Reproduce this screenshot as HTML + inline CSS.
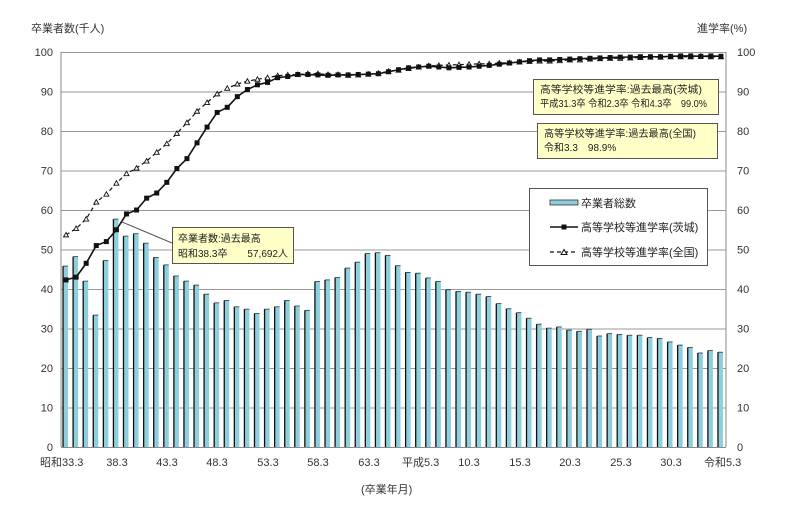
<!DOCTYPE html>
<html><head><meta charset="utf-8"><style>
body{margin:0;background:#fff}
svg{display:block;font-family:"Liberation Sans","Noto Sans CJK JP",sans-serif}
</style></head><body>
<svg id="c" width="800" height="518" viewBox="0 0 800 518" xmlns="http://www.w3.org/2000/svg">
<rect width="800" height="518" fill="#fff"/>
<g id="grid" stroke="#999" stroke-width="1"></g>
<line x1="61" y1="52" x2="61" y2="447" stroke="#888"/>
<line x1="726" y1="52" x2="726" y2="447" stroke="#888"/>
<line x1="61" y1="447.5" x2="726" y2="447.5" stroke="#888"/>
<g id="bars"></g>
<g id="lines"></g>
<g font-size="11" fill="#333">
<text x="31" y="32">卒業者数(千人)</text>
<text x="697" y="32">進学率(%)</text>
<g text-anchor="end" id="ly"></g>
<g text-anchor="start" id="ry"></g>
<text x="40" y="466">昭和33.3</text>
<text x="117" y="466" text-anchor="middle">38.3</text>
<text x="167" y="466" text-anchor="middle">43.3</text>
<text x="217" y="466" text-anchor="middle">48.3</text>
<text x="268" y="466" text-anchor="middle">53.3</text>
<text x="318" y="466" text-anchor="middle">58.3</text>
<text x="369" y="466" text-anchor="middle">63.3</text>
<text x="402" y="466">平成5.3</text>
<text x="469" y="466" text-anchor="middle">10.3</text>
<text x="520" y="466" text-anchor="middle">15.3</text>
<text x="570" y="466" text-anchor="middle">20.3</text>
<text x="621" y="466" text-anchor="middle">25.3</text>
<text x="671" y="466" text-anchor="middle">30.3</text>
<text x="704" y="466">令和5.3</text>
<text x="361" y="493">(卒業年月)</text>
</g>
<line x1="172" y1="243" x2="122" y2="222" stroke="#555"/>
<rect x="172.5" y="227.5" width="121" height="36" fill="#ffffc8" stroke="#555"/>
<text x="178" y="242" font-size="10" fill="#222">卒業者数:過去最高</text>
<text x="178" y="257" font-size="10" fill="#222" textLength="110" lengthAdjust="spacingAndGlyphs">昭和38.3卒　　57,692人</text>
<rect x="533.5" y="79.5" width="185" height="35" fill="#ffffc8" stroke="#555"/>
<text x="540" y="93" font-size="10" fill="#222" textLength="162" lengthAdjust="spacingAndGlyphs">高等学校等進学率:過去最高(茨城)</text>
<text x="540" y="107" font-size="10" fill="#222" textLength="167" lengthAdjust="spacingAndGlyphs">平成31.3卒 令和2.3卒 令和4.3卒　99.0%</text>
<rect x="537.5" y="123.5" width="180" height="35" fill="#ffffc8" stroke="#555"/>
<text x="544" y="137" font-size="10" fill="#222" textLength="152" lengthAdjust="spacingAndGlyphs">高等学校等進学率:過去最高(全国)</text>
<text x="544" y="151" font-size="10" fill="#222">令和3.3　98.9%</text>
<rect x="529.5" y="188.5" width="178" height="77" fill="#fff" stroke="#555"/>
<rect x="550" y="200" width="28" height="5" fill="#8ecfde" stroke="#333" stroke-width="0.8"/>
<text x="581" y="207" font-size="11" fill="#222">卒業者総数</text>
<line x1="550" y1="227" x2="578" y2="227" stroke="#111" stroke-width="1.6"/>
<rect x="561.5" y="224.5" width="5" height="5" fill="#111"/>
<text x="581" y="231" font-size="11" fill="#222">高等学校等進学率(茨城)</text>
<line x1="550" y1="252" x2="578" y2="252" stroke="#111" stroke-width="1.2" stroke-dasharray="4,3"/>
<path d="M561,254.5 L564,249.5 L567,254.5 Z" fill="#fff" stroke="#111"/>
<text x="581" y="256" font-size="11" fill="#222">高等学校等進学率(全国)</text>
</svg>
<script>
var NS="http://www.w3.org/2000/svg";
function el(p,t,a){var e=document.createElementNS(NS,t);for(var k in a)e.setAttribute(k,a[k]);document.getElementById(p).appendChild(e);return e;}
function Y(v){return 447-v*3.95;}
for(var v=10;v<=100;v+=10){el("grid","line",{x1:61,x2:726,y1:Y(v)+.5,y2:Y(v)+.5});}
for(var v=0;v<=100;v+=10){var t=el("ly","text",{x:53,y:Y(v)+4});t.textContent=v;var r=el("ry","text",{x:737,y:Y(v)+4});r.textContent=v;}
var bars=[45.8,48.2,42.0,33.4,47.2,57.7,53.4,54.0,51.6,48.0,46.1,43.3,42.0,41.0,38.7,36.5,37.1,35.5,34.9,33.8,34.9,35.5,37.1,35.7,34.6,41.9,42.3,42.9,45.3,46.8,49.0,49.2,48.5,45.9,44.2,44.0,42.8,41.9,39.8,39.4,39.2,38.7,38.1,36.3,35.0,34.0,32.6,31.1,30.1,30.4,29.6,29.3,29.8,28.1,28.7,28.5,28.3,28.3,27.7,27.5,26.6,25.8,25.2,23.8,24.4,24.0];
var W=665/66;
function X(i){return 61+W*(i+0.5);}
bars.forEach(function(b,i){var x=X(i)-3;el("bars","rect",{x:x,y:Y(b),width:5,height:447-Y(b),fill:"#8ecfde"});el("bars","line",{x1:x,x2:x,y1:Y(b),y2:447,stroke:"#111","stroke-width":1.3});el("bars","line",{x1:x,x2:x+5,y1:Y(b),y2:Y(b),stroke:"#333","stroke-width":0.8});});
var ib=[42.3,43.0,46.5,51,52,55,59,60,63,64.3,67,70.5,73,77,81,84.7,86,88.7,90.5,91.7,92.3,93.5,93.8,94.3,94.3,94.2,94.1,94.2,94.2,94.3,94.4,94.5,95,95.5,96,96.2,96.4,96.2,96,96.1,96.2,96.4,96.6,96.9,97.2,97.5,97.8,98,98,98.1,98.2,98.3,98.4,98.5,98.6,98.7,98.7,98.8,98.8,98.8,98.9,99.0,99.0,98.9,99.0,98.9];
var na=[53.7,55.3,57.7,62,64,66.8,69.2,70.6,72.4,74.6,76.8,79.4,82.1,85,87.2,89.4,90.8,91.9,92.6,93.1,93.5,94.0,94.2,94.3,94.5,94.5,94.3,94.3,94.1,94.2,94.4,94.6,95.1,95.4,95.8,96.2,96.5,96.6,96.7,96.8,96.9,97.0,97.0,97.2,97.3,97.5,97.6,97.7,97.7,97.8,98.0,98.0,98.2,98.3,98.4,98.4,98.5,98.6,98.7,98.7,98.8,98.8,98.8,98.9,98.8,98.8];
var p1=ib.map(function(v,i){return X(i)+","+Y(v)}).join(" ");
var p2=na.map(function(v,i){return X(i)+","+Y(v)}).join(" ");
el("lines","polyline",{points:p2,fill:"none",stroke:"#111","stroke-width":1.2,"stroke-dasharray":"4,3"});
na.forEach(function(v,i){var x=X(i),y=Y(v);el("lines","path",{d:"M"+(x-2.5)+","+(y+2)+" L"+x+","+(y-2.5)+" L"+(x+2.5)+","+(y+2)+" Z",fill:"#fff",stroke:"#111","stroke-width":0.9});});
el("lines","polyline",{points:p1,fill:"none",stroke:"#111","stroke-width":1.6});
ib.forEach(function(v,i){el("lines","rect",{x:X(i)-2.5,y:Y(v)-2.5,width:5,height:5,fill:"#111"});});
</script>
</body></html>
